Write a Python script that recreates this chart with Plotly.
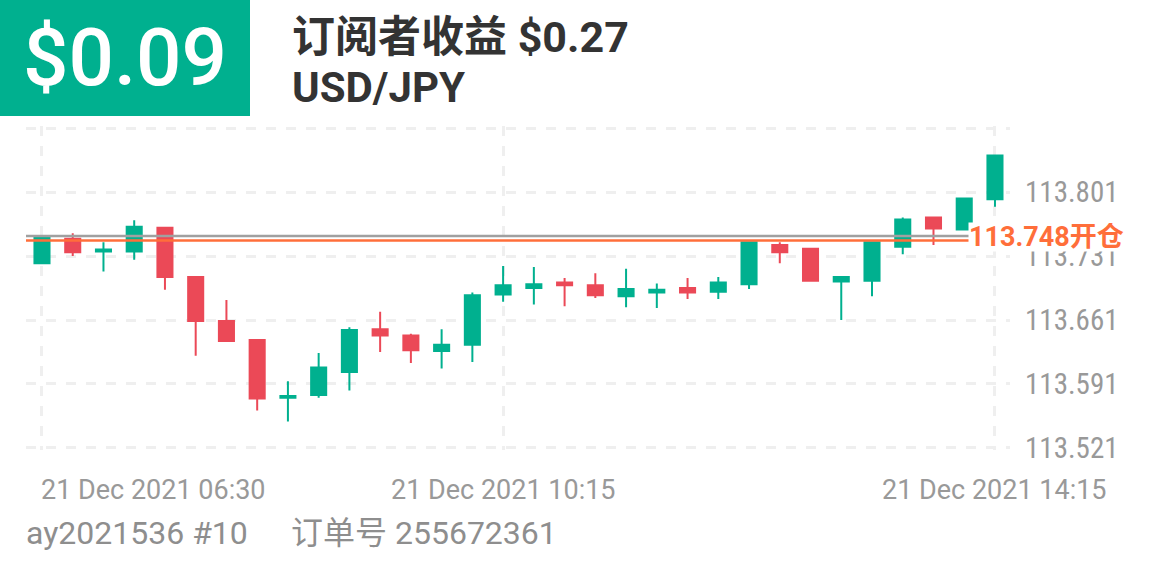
import plotly.graph_objects as go

# ---------------- data ----------------
date = "2021-12-21"
times = ["06:30", "06:45", "07:00", "07:15", "07:30", "07:45", "08:00", "08:15",
         "08:30", "08:45", "09:00", "09:15", "09:30", "09:45", "10:00", "10:15",
         "10:30", "10:45", "11:00", "11:15", "11:30", "11:45", "12:00", "12:15",
         "12:30", "12:45", "13:00", "13:15", "13:30", "13:45", "14:00", "14:15"]
open_ = [113.723, 113.750, 113.736, 113.736, 113.762, 113.708, 113.660, 113.639,
         113.576, 113.579, 113.604, 113.651, 113.644, 113.627, 113.634, 113.689,
         113.696, 113.702, 113.699, 113.687, 113.691, 113.696, 113.692, 113.700,
         113.743, 113.739, 113.703, 113.704, 113.741, 113.773, 113.760, 113.793]
high = [113.752, 113.756, 113.746, 113.770, 113.763, 113.708, 113.683, 113.640,
        113.594, 113.625, 113.653, 113.670, 113.646, 113.651, 113.691, 113.720,
        113.719, 113.707, 113.712, 113.717, 113.701, 113.707, 113.708, 113.747,
        113.746, 113.740, 113.708, 113.747, 113.773, 113.773, 113.795, 113.842]
low = [113.722, 113.731, 113.714, 113.727, 113.694, 113.622, 113.637, 113.562,
       113.550, 113.576, 113.584, 113.626, 113.614, 113.608, 113.615, 113.681,
       113.678, 113.676, 113.685, 113.675, 113.674, 113.684, 113.684, 113.695,
       113.723, 113.704, 113.661, 113.687, 113.733, 113.743, 113.759, 113.785]
close = [113.751, 113.735, 113.738, 113.763, 113.708, 113.660, 113.638, 113.575,
         113.578, 113.609, 113.650, 113.644, 113.628, 113.634, 113.688, 113.699,
         113.700, 113.699, 113.688, 113.695, 113.694, 113.691, 113.702, 113.746,
         113.735, 113.704, 113.708, 113.746, 113.771, 113.761, 113.794, 113.841]

y_tickvals = [113.521, 113.591, 113.661, 113.731, 113.801, 113.871]
y_ticktext = ["113.521", "113.591", "113.661", "113.731", "113.801", ""]
x_tick_times = ["06:30", "10:15", "14:15"]
x_tick_labels = ["21 Dec 2021 06:30", "21 Dec 2021 10:15", "21 Dec 2021 14:15"]

open_price = 113.748
open_label = "113.748开仓"
current_price = 113.753

header_value = "$0.09"
title_line1 = "订阅者收益 $0.27"
title_line2 = "USD/JPY"
footer_left = "ay2021536 #10"
footer_right = "订单号 255672361"

# ---------------- style ----------------
W, H = 1161, 580
L, R, T, B = 26, 151, 126, 130
PW, PH = W - L - R, H - T - B
Y_RANGE = [113.5188, 113.8732]
GREEN = "#00B08F"
RED = "#EB4957"
ORANGE = "#FF6E3A"
GRAY_LINE = "#A0A0A0"
GRID = "#EFEFEF"
FONT = "Roboto, 'Noto Sans CJK SC', sans-serif"
NARROW = "'Liberation Sans Narrow', 'Roboto Condensed', 'DejaVu Sans Condensed', Roboto, sans-serif"


def px_x(p):
    return (p - L) / PW


def px_y(p):
    return (H - B - p) / PH


xs = [f"{date} {t}" for t in times]

fig = go.Figure()
fig.add_trace(go.Candlestick(
    x=xs, open=open_, high=high, low=low, close=close,
    increasing=dict(line=dict(color=GREEN, width=2), fillcolor=GREEN),
    decreasing=dict(line=dict(color=RED, width=2), fillcolor=RED),
    whiskerwidth=0,
    showlegend=False,
))

# reference lines
fig.add_shape(type="line", xref="paper", x0=0, x1=1, yref="y",
              y0=current_price, y1=current_price,
              line=dict(color=GRAY_LINE, width=2.5), layer="above")
fig.add_shape(type="line", xref="paper", x0=0, x1=1, yref="y",
              y0=open_price, y1=open_price,
              line=dict(color=ORANGE, width=2.5), layer="above")

ann = []
# header box
ann.append(dict(text=header_value, xref="paper", yref="paper",
                x=px_x(0), y=px_y(0), xanchor="left", yanchor="top",
                width=250, height=116, bgcolor=GREEN, borderpad=0, borderwidth=0,
                showarrow=False, align="center", valign="middle",
                font=dict(family=FONT, size=80, color="white", weight=500)))
ann.append(dict(text=title_line1, xref="paper", yref="paper",
                x=px_x(290), y=px_y(37), xanchor="left", yanchor="middle",
                showarrow=False, font=dict(family=FONT, size=43, color="#333333", weight="bold")))
ann.append(dict(text=title_line2, xref="paper", yref="paper",
                x=px_x(290), y=px_y(88), xanchor="left", yanchor="middle",
                showarrow=False, font=dict(family=FONT, size=42, color="#333333", weight="bold")))
# x tick labels
anchors = ["left", "center", "center"]
for t, lab, a in zip(x_tick_times, x_tick_labels, anchors):
    ann.append(dict(text=lab, xref="x", yref="paper", x=f"{date} {t}", y=px_y(490),
                    xanchor=a, yanchor="middle", showarrow=False, xshift=-3 if a == "left" else 0,
                    font=dict(family=FONT, size=27, color="#999999")))
# footer
ann.append(dict(text=footer_left, xref="paper", yref="paper", x=px_x(24), y=px_y(533),
                xanchor="left", yanchor="middle", showarrow=False,
                font=dict(family=FONT, size=32, color="#8E8E8E")))
ann.append(dict(text=footer_right, xref="paper", yref="paper", x=px_x(289), y=px_y(533),
                xanchor="left", yanchor="middle", showarrow=False,
                font=dict(family=FONT, size=32, color="#8E8E8E")))
# open price label
ann.append(dict(text=open_label, xref="paper", yref="y", x=px_x(968), y=open_price,
                xanchor="left", yanchor="middle", showarrow=False, bgcolor="white",
                borderpad=0, height=28, valign="middle", yshift=3,
                font=dict(family=FONT, size=27, color=ORANGE, weight="bold")))

fig.update_layout(
    width=W, height=H,
    margin=dict(l=L, r=R, t=T, b=B, pad=0),
    paper_bgcolor="white", plot_bgcolor="white",
    annotations=ann,
    xaxis=dict(
        type="date",
        range=[f"{date} 06:22:12", f"{date} 14:22:20"],
        tickvals=[f"{date} {t}" for t in x_tick_times],
        showticklabels=False, ticks="",
        showgrid=True, gridcolor=GRID, gridwidth=3, griddash="10px,10px",
        zeroline=False, showline=False,
        rangeslider=dict(visible=False),
    ),
    yaxis=dict(
        side="right",
        range=Y_RANGE,
        tickvals=y_tickvals, ticktext=y_ticktext,
        ticks="", ticklabelstandoff=14,
        tickfont=dict(family=NARROW, size=29, color="#999999"),
        showgrid=True, gridcolor=GRID, gridwidth=2.5, griddash="10px,10px",
        zeroline=False, showline=False,
    ),
    hovermode=False,
)

fig.write_html("out.html")
